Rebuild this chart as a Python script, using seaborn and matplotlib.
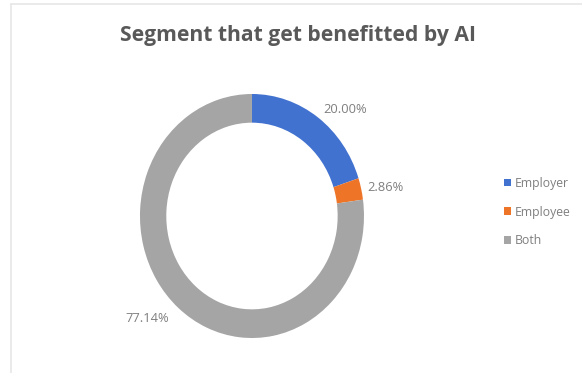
import matplotlib
matplotlib.use("Agg")
import matplotlib.pyplot as plt
import seaborn as sns
import numpy as np

categories = ["Employer", "Employee", "Both"]
values = [20.00, 2.86, 77.14]
label_texts = ["20.00%", "2.86%", "77.14%"]
title = "Segment that get benefitted by AI"

sns.set_theme(style="white")
plt.rcParams['font.family'] = ['Open Sans', 'DejaVu Sans']

colors = sns.color_palette(["#4272d0", "#ee7428", "#a5a5a5"])

fig = plt.figure(figsize=(5.82, 3.73), dpi=100)
fig.patch.set_facecolor("white")

# faint chart border
fig.add_artist(plt.Line2D([11/582, 1.0], [1-4/373, 1-4/373], color="#e6e6e6", lw=1.2, transform=fig.transFigure))
fig.add_artist(plt.Line2D([11/582, 11/582], [0, 1-4/373], color="#e6e6e6", lw=1.2, transform=fig.transFigure))

ax = fig.add_axes([0.2405, 0.0938, 0.3849, 0.6542])
wedges, _ = ax.pie(values, colors=colors, startangle=90, counterclock=False,
                   radius=1.0, wedgeprops=dict(width=0.235, edgecolor="none"))
ax.set_aspect("auto")
ax.set_xlim(-1, 1)
ax.set_ylim(-1, 1)
ax.axis("off")

label_r = [1.08, 1.06, 1.12]
label_ha = ["left", "left", "right"]
for w, txt, r, ha in zip(wedges, label_texts, label_r, label_ha):
    ang = np.deg2rad((w.theta1 + w.theta2) / 2)
    ax.text(r * np.cos(ang), r * np.sin(ang), txt, ha=ha, va="center",
            fontsize=9.3, color="#7f7f7f")

fig.text(298/582, 1-35/373, title, ha="center", va="center", fontsize=15.2,
         fontweight="bold", color="#595959")

leg = fig.legend(wedges, categories, loc="center left",
                 bbox_to_anchor=(493/582, 1-212/373), frameon=False,
                 fontsize=8.8, labelcolor="#7f7f7f", handlelength=0.55,
                 handleheight=0.55, handletextpad=0.3, labelspacing=1.3)

fig.savefig("out.png", dpi=100, facecolor="white")
